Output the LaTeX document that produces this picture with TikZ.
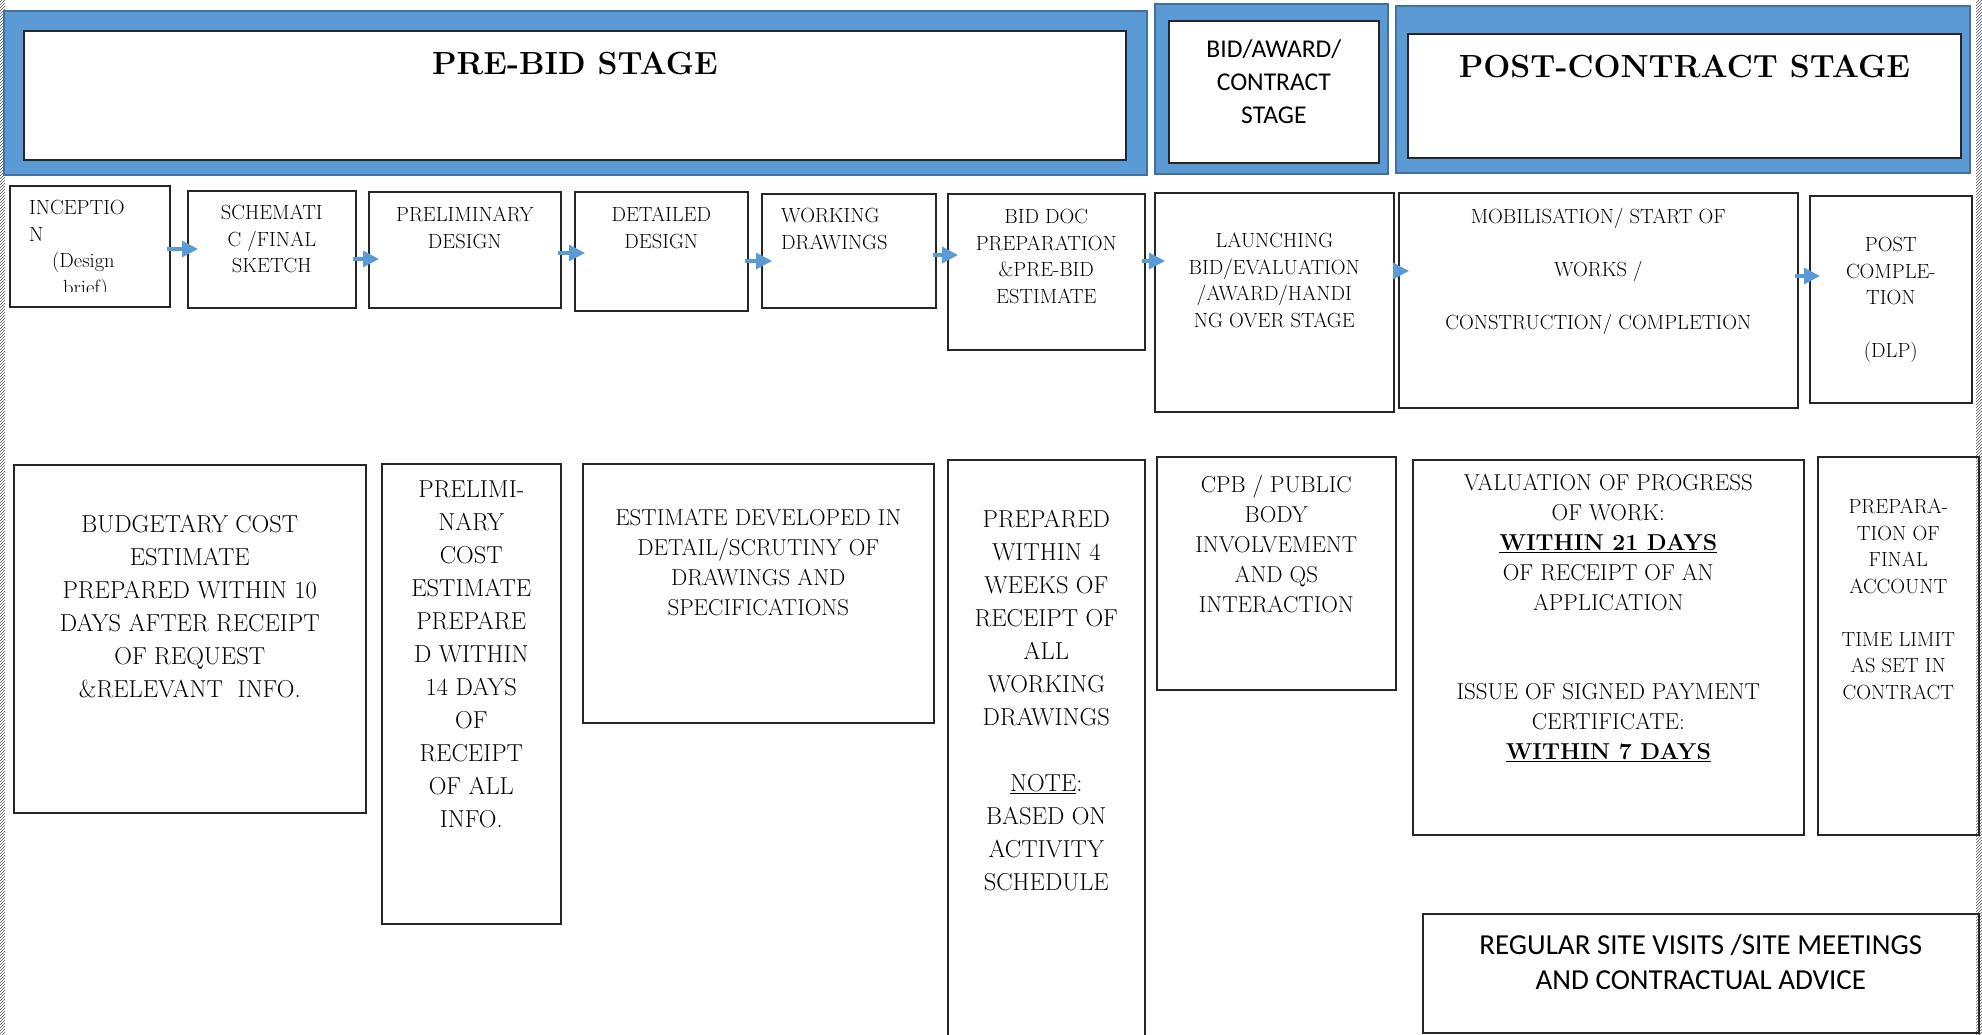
\documentclass[tikz,border=0pt]{standalone}
\usepackage{fontspec}
\newfontfamily\calib{Carlito}
\usetikzlibrary{positioning,arrows.meta,patterns}

\definecolor{stageblue}{HTML}{5B9BD5}
\definecolor{stageedge}{HTML}{41719C}

\tikzset{
  band/.style={draw=stageedge, line width=2pt, fill=stageblue, anchor=north west, inner sep=0pt},
  inbox/.style={draw=black!85, line width=1.8pt, fill=white, anchor=north west, inner sep=0pt},
  box/.style={draw=black!85, line width=1.6pt, anchor=north west, inner sep=0pt},
  txt/.style={inner sep=0pt, align=center},
  stagetxt/.style={txt, font=\fontsize{20.5}{26.5}\selectfont},
  bigtxt/.style={txt, font=\fontsize{24.5}{33}\selectfont},
  midtxt/.style={txt, font=\fontsize{23}{30}\selectfont},
  titletxt/.style={txt, font=\fontsize{32}{38}\selectfont\bfseries},
  sanstxt/.style={txt, font=\calib\fontsize{25.6}{33}\selectfont},
  flow/.style={draw=stageblue, line width=3.2pt, -{Triangle[length=16pt,width=16pt]},
    shorten <=-4pt, shorten >=-11pt},
}

\begin{document}
\begin{tikzpicture}[x=1pt,y=-1pt]
  \useasboundingbox (0,0) rectangle (1982,1034);

  %% page edges
  \fill[pattern=north east lines, pattern color=black!65] (0,0) rectangle (5,1034);
  \fill[pattern=north east lines, pattern color=black!65] (1976,0) rectangle (1982,1034);

  %% stage banners
  \node[band, minimum width=1143pt, minimum height=164pt] (prebidO) at (3,10) {};
  \node[inbox, minimum width=1102pt, minimum height=129pt] (prebid) at (23,30) {};
  \node[titletxt, below=22pt of prebid.north] (prebidT) {PRE-BID STAGE};

  \node[band, minimum width=233pt, minimum height=170pt] (bidawardO) at (1154,3) {};
  \node[inbox, minimum width=210pt, minimum height=142pt] (bidaward) at (1168,20) {};
  \node[sanstxt, below=20pt of bidaward.north] (bidawardT) {BID/AWARD/\\CONTRACT\\STAGE};

  \node[band, minimum width=574pt, minimum height=167pt] (postO) at (1395,5) {};
  \node[inbox, minimum width=553pt, minimum height=124pt] (post) at (1407,33) {};
  \node[titletxt, below=22pt of post.north] (postT) {POST-CONTRACT STAGE};

  %% stages
  \node[box, minimum width=160pt, minimum height=121pt] (incep) at (9,185) {};
  \node[box, minimum width=168pt, minimum height=117pt] (schem) at (187,190) {};
  \node[box, minimum width=192pt, minimum height=116pt] (prelim) at (368,191) {};
  \node[box, minimum width=173pt, minimum height=119pt] (detail) at (574,191) {};
  \node[box, minimum width=174pt, minimum height=114pt] (work) at (761,193) {};
  \node[box, minimum width=197pt, minimum height=156pt] (biddoc) at (947,193) {};
  \node[box, minimum width=239pt, minimum height=219pt] (launch) at (1154,192) {};
  \node[box, minimum width=399pt, minimum height=215pt] (mobil) at (1398,192) {};
  \node[box, minimum width=162pt, minimum height=207pt] (postc) at (1809,195) {};

  \begin{scope}
    \clip (incep.north west) rectangle ([yshift=16pt]incep.south east);
    \node[stagetxt, align=left, anchor=north west, below right=15pt and 20pt of incep.north west] (incepT)
      {INCEPTIO\\N\\\hspace*{23pt}(Design\\\hspace*{34pt}brief)};
  \end{scope}
  \node[stagetxt, below=15pt of schem.north] (schemT) {SCHEMATI\\C /FINAL\\SKETCH};
  \node[stagetxt, below=16pt of prelim.north] (prelimT) {PRELIMINARY\\DESIGN};
  \node[stagetxt, below=16pt of detail.north] (detailT) {DETAILED\\DESIGN};
  \node[stagetxt, align=left, below right=15pt and 20pt of work.north west] (workT) {WORKING\\DRAWINGS};
  \node[stagetxt, below=16pt of biddoc.north] (biddocT) {BID DOC\\PREPARATION\\\&PRE-BID\\ESTIMATE};
  \node[stagetxt, below=41pt of launch.north] (launchT) {LAUNCHING\\BID/EVALUATION\\/AWARD/HANDI\\NG OVER STAGE};
  \node[stagetxt, below=16pt of mobil.north] (mobilT)
    {MOBILISATION/ START OF\\[26.5pt]WORKS /\\[26.5pt]CONSTRUCTION/ COMPLETION};
  \node[stagetxt, below=42pt of postc.north] (postcT) {POST\\COMPLE-\\TION\\[26.5pt](DLP)};

  % arrows
  \draw[flow] (incep.east |- 0,249) -- (schem.west |- 0,249);
  \draw[flow] (schem.east |- 0,259) -- (prelim.west |- 0,259);
  \draw[flow] (prelim.east |- 0,253) -- (detail.west |- 0,253);
  \draw[flow] (detail.east |- 0,261) -- (work.west |- 0,261);
  \draw[flow] (work.east |- 0,255) -- (biddoc.west |- 0,255);
  \draw[flow] (biddoc.east |- 0,261) -- (launch.west |- 0,261);
  \draw[flow] (launch.east |- 0,271) -- (mobil.west |- 0,271);
  \draw[flow] (mobil.east |- 0,276) -- (postc.west |- 0,276);

  %% time limits
  \node[box, minimum width=352pt, minimum height=348pt] (budget) at (13,464) {};
  \node[box, minimum width=179pt, minimum height=460pt] (prelimcost) at (381,463) {};
  \node[box, minimum width=351pt, minimum height=259pt] (estdev) at (582,463) {};
  \node[box, minimum width=197pt, minimum height=581pt] (prepared) at (947,459) {};
  \node[box, minimum width=239pt, minimum height=233pt] (cpb) at (1156,456) {};
  \node[box, minimum width=391pt, minimum height=375pt] (valuat) at (1412,459) {};
  \node[box, minimum width=161pt, minimum height=378pt] (prepara) at (1817,456) {};
  \node[box, minimum width=556pt, minimum height=119pt] (regular) at (1422,913) {};

  \node[bigtxt, below=51pt of budget.north] (budgetT)
    {BUDGETARY COST\\ESTIMATE\\PREPARED WITHIN 10\\DAYS AFTER RECEIPT\\OF REQUEST\\\&RELEVANT~ INFO.};
  \node[bigtxt, below=18pt of prelimcost.north] (prelimcostT)
    {PRELIMI-\\NARY\\COST\\ESTIMATE\\PREPARE\\D WITHIN\\14 DAYS\\OF\\RECEIPT\\OF ALL\\INFO.};
  \node[midtxt, below=46pt of estdev.north] (estdevT)
    {ESTIMATE DEVELOPED IN\\DETAIL/SCRUTINY OF\\DRAWINGS AND\\SPECIFICATIONS};
  \node[bigtxt, below=51pt of prepared.north] (preparedT)
    {PREPARED\\WITHIN 4\\WEEKS OF\\RECEIPT OF\\ALL\\WORKING\\DRAWINGS\\[33pt]\underline{NOTE}:\\BASED ON\\ACTIVITY\\SCHEDULE};
  \node[midtxt, below=19pt of cpb.north] (cpbT)
    {CPB / PUBLIC\\BODY\\INVOLVEMENT\\AND QS\\INTERACTION};
  \node[midtxt, below=15pt of valuat.north] (valuatT)
    {VALUATION OF PROGRESS\\OF WORK:\\\underline{\textbf{WITHIN 21 DAYS}}\\OF RECEIPT OF AN\\APPLICATION\\[59.4pt]ISSUE OF SIGNED PAYMENT\\CERTIFICATE:\\\underline{\textbf{WITHIN 7 DAYS}}};
  \node[stagetxt, below=43pt of prepara.north] (preparaT)
    {PREPARA-\\TION OF\\FINAL\\ACCOUNT\\[26.5pt]TIME LIMIT\\AS SET IN\\CONTRACT};
  \node[sanstxt, font=\calib\fontsize{29}{35.4}\selectfont, below=21pt of regular.north] (regularT)
    {REGULAR SITE VISITS /SITE MEETINGS\\AND CONTRACTUAL ADVICE};

\end{tikzpicture}
\end{document}
